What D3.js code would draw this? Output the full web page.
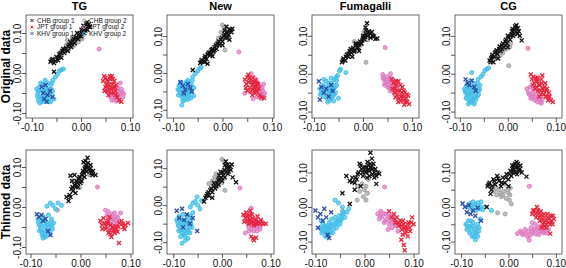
<!DOCTYPE html>
<html>
<head>
<meta charset="utf-8">
<script src="https://cdn.jsdelivr.net/npm/d3@7"></script>
<style>
  body { margin: 0; background: #fff; }
  svg { font-family: "Liberation Sans", Arial, sans-serif; }
</style>
</head>
<body>
<div id="chart"></div>
<script>
// Labels
const methods = ["TG", "New", "Fumagalli", "CG"];
const rowLabels = ["Original data", "Thinned data"];
const groups = ["CHB group 1", "JPT group 1", "KHV group 1", "CHB group 2", "JPT group 2", "KHV group 2"];
const groupColors = ["#111111", "#e8233a", "#2b4ba5", "#a3a3a3", "#de7cc2", "#42bfe9"];
const tickValues = [-0.1, -0.05, 0, 0.05, 0.1];
const labelledTicks = [-0.1, 0, 0.1];

// Axis ranges (top row, then bottom row)
const xDomains = [[-0.112, 0.106], [-0.112, 0.104], [-0.104, 0.114], [-0.110, 0.113],
                  [-0.109, 0.105], [-0.113, 0.107], [-0.107, 0.111], [-0.113, 0.113]];
const yDomains = [[-0.1125, 0.145], [-0.122, 0.157], [-0.117, 0.155], [-0.117, 0.155],
                  [-0.1175, 0.1425], [-0.132, 0.149], [-0.136, 0.165], [-0.136, 0.165]];

// ---- TG, original
const tgOrigCHB1 = [[-0.062,0.028],[-0.058,0.035],[-0.055,0.025],[-0.05,0.04],[-0.047,0.032],[-0.044,0.047],[-0.04,0.038],[-0.038,0.055],[-0.034,0.05],[-0.03,0.062],[-0.027,0.055],[-0.024,0.07],[-0.02,0.065],[-0.017,0.08],[-0.013,0.075],[-0.01,0.09],[-0.006,0.085],[-0.003,0.098],[0.0,0.092],[0.004,0.105],[0.007,0.1],[0.01,0.112],[0.013,0.108],[0.016,0.122],[0.012,0.127],[0.005,0.118],[-0.008,0.1],[-0.022,0.078],[-0.036,0.06],[0.018,0.115],[-0.055,0.003],
  [-0.06,0.032],[-0.052,0.03],[-0.045,0.04],[-0.041,0.05],[-0.033,0.058],[-0.026,0.066],[-0.019,0.072],[-0.011,0.086],[-0.004,0.092],[0.002,0.1],[0.009,0.106],[0.014,0.116],[-0.015,0.085],[0.001,0.108],[0.011,0.122]];
const tgOrigJPT1 = [[0.045,-0.02],[0.05,-0.012],[0.052,-0.03],[0.055,-0.022],[0.058,-0.04],[0.06,-0.015],[0.062,-0.05],[0.064,-0.028],[0.066,-0.038],[0.068,-0.02],[0.07,-0.045],[0.072,-0.03],[0.056,-0.055],[0.074,-0.06],[0.078,-0.068],[0.082,-0.072],[0.048,-0.045],[0.063,-0.008],
  [0.047,-0.008],[0.053,-0.018],[0.057,-0.03],[0.059,-0.008],[0.061,-0.038],[0.065,-0.015],[0.067,-0.048],[0.069,-0.035],[0.071,-0.055],[0.05,-0.035],[0.054,-0.045]];
const tgOrigKHV1 = [[-0.08,-0.035],[-0.077,-0.05],[-0.075,-0.065],[-0.072,-0.03],[-0.068,-0.055],[-0.063,-0.045],[-0.07,-0.072],[-0.058,-0.06]];
const tgOrigCHB2 = [[-0.042,0.05],[-0.035,0.06],[-0.03,0.07],[-0.025,0.058],[-0.02,0.075],[-0.015,0.068],[-0.01,0.08],[-0.005,0.078],[0.0,0.088],[0.004,0.095],[-0.028,0.082],[0.006,0.115],[-0.018,0.09],
  [-0.038,0.055],[-0.022,0.065],[-0.012,0.072],[0.002,0.085]];
const tgOrigJPT2 = [[0.05,-0.04],[0.055,-0.048],[0.06,-0.06],[0.065,-0.052],[0.068,-0.065],[0.07,-0.035],[0.075,-0.045],[0.078,-0.055],[0.082,-0.04],[0.085,-0.06],[0.072,-0.07],[0.08,-0.025],[0.037,0.06],
  [0.058,-0.052],[0.063,-0.068],[0.067,-0.058],[0.073,-0.058],[0.076,-0.038],[0.08,-0.05],[0.084,-0.048],[0.077,-0.068],[0.087,-0.052]];
const tgOrigKHV2 = [[-0.09,-0.04],[-0.088,-0.05],[-0.085,-0.035],[-0.083,-0.06],[-0.08,-0.045],[-0.078,-0.028],[-0.076,-0.055],[-0.074,-0.07],[-0.072,-0.038],[-0.07,-0.05],[-0.068,-0.025],[-0.066,-0.062],[-0.064,-0.042],[-0.062,-0.03],[-0.06,-0.055],[-0.058,-0.045],[-0.057,-0.018],[-0.052,-0.01],[-0.048,-0.003],[-0.044,0.005],[-0.04,0.008],[-0.036,0.01],[-0.087,-0.068],[-0.08,-0.072],[-0.055,-0.065],[-0.062,-0.072],
  [-0.089,-0.058],[-0.086,-0.045],[-0.082,-0.025],[-0.079,-0.062],[-0.075,-0.045],[-0.071,-0.062],[-0.069,-0.04],[-0.065,-0.052],[-0.061,-0.04],[-0.059,-0.025],[-0.084,-0.075],[-0.067,-0.072],[-0.073,-0.018]];

// ---- New, original
const newOrigCHB1 = [[-0.045,0.027],[-0.042,0.035],[-0.038,0.03],[-0.035,0.045],[-0.032,0.038],[-0.028,0.055],[-0.025,0.048],[-0.022,0.062],[-0.018,0.058],[-0.015,0.07],[-0.012,0.065],[-0.01,0.08],[-0.006,0.075],[-0.003,0.09],[0.0,0.085],[0.003,0.1],[0.006,0.095],[0.009,0.108],[0.012,0.103],[0.015,0.115],[0.018,0.11],[0.02,0.12],[0.008,0.125],[0.004,0.115],[-0.02,0.045],[-0.03,0.025],[-0.06,0.008],[0.014,0.09],
  [-0.043,0.03],[-0.036,0.04],[-0.03,0.05],[-0.024,0.055],[-0.02,0.065],[-0.013,0.075],[-0.008,0.085],[-0.001,0.095],[0.005,0.105],[0.011,0.112],[0.016,0.118],[-0.016,0.062],[0.0,0.075],[0.01,0.095],[-0.035,0.03]];
const newOrigJPT1 = [[0.045,-0.018],[0.048,-0.03],[0.05,-0.012],[0.053,-0.025],[0.055,-0.04],[0.058,-0.018],[0.06,-0.032],[0.062,-0.045],[0.064,-0.025],[0.066,-0.055],[0.068,-0.038],[0.07,-0.05],[0.072,-0.03],[0.075,-0.06],[0.084,-0.068],[0.052,-0.005],[0.06,-0.06],
  [0.047,-0.04],[0.05,-0.048],[0.054,-0.015],[0.057,-0.05],[0.059,-0.025],[0.061,-0.012],[0.063,-0.038],[0.065,-0.048],[0.067,-0.02],[0.069,-0.03],[0.073,-0.042],[0.078,-0.065]];
const newOrigKHV1 = [[-0.085,-0.025],[-0.08,-0.035],[-0.075,-0.045],[-0.07,-0.03],[-0.065,-0.04],[-0.062,-0.05],[-0.078,-0.055]];
const newOrigCHB2 = [[-0.025,0.06],[-0.018,0.07],[-0.012,0.078],[-0.005,0.085],[0.0,0.1],[0.005,0.062],[0.0,0.13],[0.004,0.125],[-0.008,0.095],[0.01,0.11],[-0.03,0.05],
  [-0.02,0.055],[-0.003,0.11],[0.012,0.1]];
const newOrigJPT2 = [[0.045,-0.055],[0.058,-0.002],[0.065,-0.015],[0.068,-0.028],[0.072,-0.045],[0.076,-0.035],[0.078,-0.05],[0.08,-0.04],[0.082,-0.06],[0.085,-0.055],[0.07,-0.065],[0.033,0.057],[0.062,-0.07],
  [0.066,-0.035],[0.07,-0.025],[0.074,-0.055],[0.077,-0.065],[0.081,-0.048],[0.083,-0.03],[0.075,-0.04],[0.079,-0.07]];
const newOrigKHV2 = [[-0.09,-0.045],[-0.088,-0.035],[-0.086,-0.055],[-0.084,-0.025],[-0.082,-0.065],[-0.08,-0.04],[-0.078,-0.05],[-0.076,-0.03],[-0.074,-0.06],[-0.072,-0.045],[-0.07,-0.02],[-0.068,-0.055],[-0.066,-0.035],[-0.064,-0.068],[-0.062,-0.05],[-0.06,-0.01],[-0.058,-0.04],[-0.055,-0.002],[-0.05,0.005],[-0.046,0.012],[-0.043,0.016],[-0.082,-0.087],[-0.078,-0.075],[-0.07,-0.072],[-0.058,-0.062],
  [-0.089,-0.06],[-0.087,-0.045],[-0.085,-0.032],[-0.083,-0.05],[-0.08,-0.06],[-0.077,-0.04],[-0.075,-0.055],[-0.073,-0.025],[-0.07,-0.04],[-0.067,-0.062],[-0.065,-0.05],[-0.063,-0.03],[-0.061,-0.02],[-0.08,-0.075],[-0.074,-0.068]];

// ---- Fumagalli, original
const fumOrigCHB1 = [[-0.043,0.03],[-0.04,0.04],[-0.036,0.035],[-0.033,0.05],[-0.03,0.045],[-0.027,0.06],[-0.024,0.055],[-0.02,0.068],[-0.017,0.062],[-0.014,0.075],[-0.01,0.07],[-0.006,0.085],[-0.003,0.08],[0.0,0.095],[0.003,0.09],[0.006,0.105],[0.009,0.1],[0.012,0.112],[0.008,0.133],[0.005,0.122],[0.015,0.095],[0.02,0.1],[0.025,0.092],[0.029,0.093],[0.018,0.11],[-0.022,0.045],[-0.008,0.06],
  [-0.041,0.035],[-0.035,0.045],[-0.029,0.052],[-0.025,0.065],[-0.018,0.058],[-0.012,0.068],[-0.008,0.078],[-0.002,0.088],[0.004,0.098],[0.01,0.108],[0.015,0.105],[0.022,0.098],[0.006,0.115],[-0.015,0.08],[0.0,0.1]];
const fumOrigJPT1 = [[0.058,-0.015],[0.062,-0.025],[0.065,-0.04],[0.068,-0.03],[0.07,-0.055],[0.072,-0.02],[0.075,-0.045],[0.078,-0.06],[0.08,-0.035],[0.082,-0.07],[0.085,-0.05],[0.088,-0.065],[0.09,-0.075],[0.094,-0.08],[0.092,-0.058],[0.076,-0.072],[0.084,-0.082],[0.066,-0.062],
  [0.06,-0.04],[0.064,-0.05],[0.067,-0.02],[0.07,-0.045],[0.073,-0.065],[0.076,-0.03],[0.079,-0.05],[0.081,-0.06],[0.083,-0.045],[0.086,-0.075],[0.089,-0.055],[0.072,-0.075]];
const fumOrigKHV1 = [[-0.09,-0.02],[-0.085,-0.035],[-0.08,-0.05],[-0.075,-0.04],[-0.07,-0.06],[-0.065,-0.03],[-0.088,-0.068],[-0.062,-0.045]];
const fumOrigCHB2 = [[-0.03,0.055],[-0.022,0.065],[-0.015,0.072],[-0.012,0.08],[-0.005,0.075],[0.0,0.088],[0.004,0.1],[0.006,0.03],[0.002,0.11],[-0.018,0.085],[0.01,0.09],
  [-0.025,0.06],[-0.008,0.082]];
const fumOrigJPT2 = [[0.04,-0.002],[0.042,-0.015],[0.045,-0.025],[0.048,-0.008],[0.05,-0.035],[0.052,-0.02],[0.055,-0.045],[0.058,-0.012],[0.06,-0.03],[0.063,-0.05],[0.066,-0.02],[0.07,-0.04],[0.045,0.069],[0.056,0.0],
  [0.041,-0.01],[0.044,-0.03],[0.047,-0.018],[0.05,-0.028],[0.053,-0.012],[0.054,-0.038],[0.057,-0.025],[0.061,-0.015],[0.064,-0.035],[0.068,-0.028]];
const fumOrigKHV2 = [[-0.088,-0.04],[-0.085,-0.05],[-0.082,-0.03],[-0.08,-0.06],[-0.078,-0.045],[-0.075,-0.02],[-0.073,-0.055],[-0.07,-0.035],[-0.068,-0.07],[-0.066,-0.048],[-0.064,-0.025],[-0.062,-0.06],[-0.06,-0.04],[-0.058,-0.015],[-0.056,-0.05],[-0.054,-0.03],[-0.052,-0.005],[-0.05,-0.065],[-0.048,0.008],[-0.046,0.012],[-0.035,0.003],[-0.072,-0.075],[-0.06,-0.072],[-0.054,-0.018],[-0.08,-0.015],
  [-0.087,-0.055],[-0.084,-0.04],[-0.081,-0.05],[-0.077,-0.035],[-0.074,-0.065],[-0.071,-0.045],[-0.069,-0.055],[-0.067,-0.038],[-0.065,-0.065],[-0.063,-0.045],[-0.061,-0.03],[-0.059,-0.055],[-0.057,-0.035],[-0.055,-0.01],[-0.07,-0.025],[-0.065,-0.012]];

// ---- CG, original
const cgOrigCHB1 = [[-0.038,0.035],[-0.035,0.04],[-0.032,0.05],[-0.028,0.045],[-0.025,0.058],[-0.022,0.052],[-0.018,0.065],[-0.015,0.06],[-0.012,0.075],[-0.008,0.07],[-0.005,0.085],[-0.002,0.08],[0.002,0.095],[0.005,0.09],[0.008,0.105],[0.011,0.1],[0.014,0.115],[0.017,0.11],[0.018,0.128],[0.021,0.12],[0.025,0.1],[0.029,0.088],[0.01,0.118],[-0.02,0.04],[-0.03,0.03],[0.0,0.07],
  [-0.036,0.03],[-0.033,0.045],[-0.027,0.055],[-0.023,0.062],[-0.017,0.072],[-0.01,0.08],[-0.004,0.09],[0.0,0.1],[0.006,0.1],[0.009,0.112],[0.013,0.105],[0.016,0.12],[0.02,0.105],[0.023,0.112],[0.015,0.125],[-0.012,0.065]];
const cgOrigJPT1 = [[0.048,-0.002],[0.05,-0.015],[0.053,-0.008],[0.055,-0.025],[0.058,-0.012],[0.06,-0.035],[0.062,-0.02],[0.065,-0.03],[0.068,-0.045],[0.07,-0.015],[0.072,-0.038],[0.075,-0.055],[0.078,-0.025],[0.08,-0.045],[0.083,-0.06],[0.086,-0.05],[0.09,-0.07],[0.094,-0.075],[0.066,-0.06],
  [0.052,-0.03],[0.057,-0.04],[0.059,-0.02],[0.063,-0.045],[0.067,-0.03],[0.069,-0.055],[0.071,-0.025],[0.074,-0.045],[0.077,-0.035],[0.079,-0.06],[0.082,-0.04],[0.084,-0.07],[0.087,-0.06],[0.072,-0.005],[0.062,-0.01]];
const cgOrigKHV1 = [[-0.088,-0.015],[-0.084,-0.025],[-0.08,-0.03],[-0.075,-0.018],[-0.07,-0.035],[-0.067,-0.045]];
const cgOrigCHB2 = [[-0.027,0.04],[-0.022,0.05],[-0.018,0.058],[-0.014,0.07],[-0.01,0.055],[-0.005,0.075],[0.0,0.083],[0.004,0.07],[0.002,0.021],[-0.008,0.065],[0.006,0.08],
  [-0.016,0.048],[-0.003,0.065]];
const cgOrigJPT2 = [[0.04,-0.04],[0.043,-0.05],[0.046,-0.035],[0.05,-0.06],[0.053,-0.045],[0.056,-0.07],[0.06,-0.055],[0.064,-0.065],[0.068,-0.075],[0.072,-0.068],[0.042,0.067],[0.048,-0.065],
  [0.045,-0.055],[0.052,-0.055],[0.058,-0.065],[0.062,-0.075],[0.066,-0.068],[0.07,-0.078],[0.054,-0.04]];
const cgOrigKHV2 = [[-0.09,-0.04],[-0.088,-0.05],[-0.086,-0.03],[-0.085,-0.06],[-0.083,-0.045],[-0.081,-0.07],[-0.08,-0.02],[-0.078,-0.055],[-0.076,-0.035],[-0.075,-0.075],[-0.073,-0.045],[-0.071,-0.065],[-0.07,-0.025],[-0.068,-0.05],[-0.066,-0.035],[-0.064,-0.06],[-0.062,-0.015],[-0.06,-0.045],[-0.058,-0.03],[-0.056,-0.008],[-0.052,-0.002],[-0.048,0.008],[-0.044,0.012],[-0.04,0.015],[-0.075,0.003],[-0.082,-0.08],[-0.07,-0.08],
  [-0.089,-0.045],[-0.087,-0.065],[-0.084,-0.035],[-0.082,-0.055],[-0.079,-0.04],[-0.077,-0.065],[-0.074,-0.05],[-0.072,-0.035],[-0.069,-0.06],[-0.067,-0.07],[-0.065,-0.045],[-0.063,-0.025],[-0.061,-0.055],[-0.059,-0.04],[-0.078,-0.075],[-0.073,-0.07]];

// ---- TG, thinned
const tgThinCHB1 = [[-0.024,0.015],[-0.022,0.03],[-0.02,0.078],[-0.018,0.045],[-0.015,0.04],[-0.012,0.055],[-0.01,0.035],[-0.008,0.065],[-0.005,0.05],[-0.003,0.07],[0.0,0.06],[0.003,0.08],[0.005,0.09],[0.008,0.075],[0.01,0.1],[0.012,0.088],[0.014,0.123],[0.015,0.11],[0.018,0.095],[0.02,0.105],[0.022,0.085],[0.025,0.09],[0.03,0.08],[-0.012,0.08],[-0.028,0.025],[0.006,0.112],
  [-0.02,0.025],[-0.016,0.05],[-0.01,0.05],[-0.006,0.06],[-0.002,0.075],[0.002,0.065],[0.006,0.085],[0.009,0.095],[0.012,0.105],[0.016,0.1],[0.02,0.09],[0.024,0.08],[0.01,0.115],[-0.017,0.065]];
const tgThinJPT1 = [[0.04,-0.035],[0.043,-0.045],[0.046,-0.028],[0.05,-0.055],[0.053,-0.04],[0.056,-0.065],[0.06,-0.045],[0.062,-0.075],[0.066,-0.058],[0.07,-0.048],[0.074,-0.062],[0.078,-0.04],[0.082,-0.035],[0.086,-0.05],[0.09,-0.045],[0.095,-0.04],[0.077,-0.09],[0.058,-0.025],
  [0.044,-0.055],[0.048,-0.04],[0.051,-0.048],[0.055,-0.035],[0.058,-0.058],[0.064,-0.05],[0.068,-0.065],[0.072,-0.055],[0.076,-0.05],[0.084,-0.042],[0.088,-0.055],[0.06,-0.068]];
const tgThinKHV1 = [[-0.087,-0.018],[-0.083,-0.025],[-0.078,-0.02],[-0.075,-0.035],[-0.07,-0.03],[-0.06,-0.07],[-0.065,-0.06]];
const tgThinCHB2 = [[-0.015,0.065],[-0.01,0.058],[-0.005,0.07],[0.0,0.075],[0.005,0.085],[0.008,0.1],[0.012,0.095],[0.016,0.09],[0.018,0.08],[0.02,0.1],[-0.046,-0.008],[-0.002,0.048],
  [0.01,0.09],[0.014,0.105],[0.003,0.07]];
const tgThinJPT2 = [[0.05,-0.008],[0.053,-0.02],[0.056,-0.012],[0.06,-0.03],[0.063,-0.018],[0.066,-0.04],[0.07,-0.025],[0.073,-0.045],[0.076,-0.035],[0.065,-0.055],[0.034,0.05],[0.08,-0.015],
  [0.055,-0.025],[0.058,-0.04],[0.061,-0.05],[0.064,-0.03],[0.068,-0.015],[0.072,-0.035],[0.066,-0.03],[0.074,-0.025]];
const tgThinKHV2 = [[-0.085,-0.03],[-0.083,-0.045],[-0.08,-0.055],[-0.078,-0.035],[-0.076,-0.065],[-0.074,-0.025],[-0.072,-0.048],[-0.07,-0.075],[-0.068,-0.038],[-0.066,-0.058],[-0.064,-0.02],[-0.062,-0.068],[-0.06,-0.045],[-0.058,-0.03],[-0.056,-0.055],[-0.054,-0.04],[-0.075,-0.078],[-0.067,0.002],[-0.06,0.01],[-0.055,0.004],[-0.045,0.01],[-0.038,0.004],[-0.05,-0.005],
  [-0.084,-0.038],[-0.082,-0.06],[-0.079,-0.045],[-0.077,-0.07],[-0.073,-0.058],[-0.071,-0.035],[-0.069,-0.065],[-0.067,-0.045],[-0.063,-0.05],[-0.061,-0.06],[-0.059,-0.038],[-0.057,-0.048],[-0.072,-0.072]];

// ---- New, thinned
const newThinCHB1 = [[-0.037,0.01],[-0.034,0.02],[-0.03,0.03],[-0.027,0.025],[-0.024,0.04],[-0.02,0.035],[-0.017,0.05],[-0.014,0.045],[-0.01,0.06],[-0.007,0.055],[-0.004,0.07],[0.0,0.065],[0.003,0.08],[0.006,0.075],[0.009,0.09],[0.012,0.085],[0.015,0.1],[0.018,0.095],[0.012,0.11],[0.008,0.118],[0.022,0.075],[0.029,0.062],[-0.02,0.02],[0.02,0.11],[-0.003,0.09],
  [-0.032,0.025],[-0.028,0.035],[-0.022,0.045],[-0.016,0.06],[-0.012,0.052],[-0.008,0.068],[-0.002,0.075],[0.002,0.088],[0.005,0.095],[0.01,0.1],[0.014,0.09],[0.016,0.105],[0.006,0.108],[-0.006,0.08]];
const newThinJPT1 = [[0.044,-0.026],[0.048,-0.035],[0.05,-0.02],[0.053,-0.04],[0.056,-0.028],[0.06,-0.048],[0.063,-0.035],[0.066,-0.055],[0.07,-0.04],[0.073,-0.03],[0.076,-0.045],[0.08,-0.04],[0.085,-0.05],[0.09,-0.05],[0.06,-0.085],[0.066,-0.095],[0.07,-0.088],[0.058,-0.015],
  [0.046,-0.045],[0.052,-0.03],[0.055,-0.05],[0.058,-0.04],[0.062,-0.025],[0.065,-0.045],[0.068,-0.05],[0.072,-0.05],[0.078,-0.05],[0.064,-0.09]];
const newThinKHV1 = [[-0.093,-0.015],[-0.088,-0.035],[-0.082,-0.01],[-0.078,-0.04],[-0.072,-0.025],[-0.066,-0.05],[-0.06,-0.035],[-0.051,-0.07],[-0.08,-0.06]];
const newThinCHB2 = [[-0.027,0.058],[-0.02,0.065],[-0.015,0.075],[-0.01,0.05],[-0.005,0.068],[0.0,0.06],[0.004,0.072],[0.006,0.04],[0.0,0.124],[0.004,0.118],[0.01,0.1],[-0.012,0.085],
  [-0.018,0.055],[-0.008,0.062],[0.008,0.112]];
const newThinJPT2 = [[0.05,-0.03],[0.052,-0.045],[0.055,-0.06],[0.058,-0.038],[0.06,-0.008],[0.062,-0.05],[0.065,-0.07],[0.068,-0.04],[0.07,-0.06],[0.074,-0.05],[0.078,-0.065],[0.082,-0.045],[0.048,-0.075],[0.037,0.046],
  [0.054,-0.05],[0.056,-0.07],[0.06,-0.065],[0.064,-0.055],[0.066,-0.045],[0.072,-0.07],[0.076,-0.058],[0.08,-0.055],[0.058,-0.022]];
const newThinKHV2 = [[-0.093,-0.04],[-0.09,-0.055],[-0.088,-0.03],[-0.086,-0.065],[-0.084,-0.045],[-0.082,-0.075],[-0.08,-0.025],[-0.078,-0.055],[-0.076,-0.085],[-0.074,-0.04],[-0.072,-0.065],[-0.07,-0.03],[-0.068,-0.05],[-0.066,-0.075],[-0.064,-0.04],[-0.062,-0.06],[-0.06,-0.02],[-0.065,-0.005],[-0.06,0.005],[-0.055,0.01],[-0.05,0.0],[-0.045,-0.01],[-0.051,0.022],[-0.082,-0.103],[-0.07,-0.09],[-0.042,0.012],
  [-0.091,-0.048],[-0.089,-0.07],[-0.087,-0.04],[-0.085,-0.055],[-0.083,-0.065],[-0.081,-0.04],[-0.079,-0.08],[-0.077,-0.07],[-0.075,-0.05],[-0.073,-0.075],[-0.071,-0.045],[-0.069,-0.07],[-0.067,-0.06],[-0.065,-0.03],[-0.063,-0.05],[-0.085,-0.085],[-0.075,-0.095]];

// ---- Fumagalli, thinned
const fumThinCHB1 = [[-0.045,0.04],[-0.03,0.009],[-0.037,0.09],[-0.03,0.075],[-0.025,0.085],[-0.02,0.07],[-0.016,0.08],[-0.012,0.1],[-0.01,0.125],[-0.006,0.11],[-0.003,0.09],[0.0,0.115],[0.003,0.1],[0.006,0.13],[0.008,0.12],[0.01,0.105],[0.012,0.157],[0.014,0.115],[0.016,0.095],[0.018,0.125],[0.02,0.085],[0.022,0.11],[0.024,0.067],[0.027,0.1],[0.03,0.096],[-0.02,0.05],[0.015,0.14],[0.005,0.085],[-0.008,0.06],
  [-0.025,0.072],[-0.018,0.085],[-0.008,0.12],[-0.004,0.1],[0.002,0.105],[0.004,0.115],[0.008,0.11],[0.012,0.125],[0.016,0.11],[0.02,0.1],[0.024,0.09],[0.01,0.09],[-0.014,0.095]];
const fumThinJPT1 = [[0.05,-0.012],[0.055,-0.03],[0.06,-0.02],[0.063,-0.045],[0.066,-0.03],[0.07,-0.055],[0.073,-0.04],[0.076,-0.065],[0.08,-0.05],[0.083,-0.075],[0.086,-0.06],[0.09,-0.045],[0.093,-0.07],[0.097,-0.03],[0.1,-0.05],[0.08,-0.11],[0.082,-0.125],[0.075,-0.095],[0.088,-0.085],
  [0.062,-0.035],[0.068,-0.045],[0.072,-0.05],[0.075,-0.055],[0.078,-0.04],[0.082,-0.06],[0.085,-0.07],[0.088,-0.05],[0.092,-0.06],[0.095,-0.045],[0.078,-0.08]];
const fumThinKHV1 = [[-0.1,-0.01],[-0.095,-0.03],[-0.09,-0.02],[-0.085,-0.04],[-0.082,-0.005],[-0.078,-0.03],[-0.075,-0.08],[-0.072,-0.09],[-0.095,-0.06],[-0.068,-0.015]];
const fumThinCHB2 = [[-0.014,0.06],[-0.01,0.045],[-0.005,0.067],[0.0,0.05],[0.003,0.06],[0.006,0.04],[-0.015,0.02],[0.003,0.02],[-0.045,-0.012],[0.008,0.08],[-0.002,0.03],[0.006,0.1]];
const fumThinJPT2 = [[0.027,-0.02],[0.03,-0.035],[0.033,-0.012],[0.036,-0.028],[0.04,-0.045],[0.043,-0.02],[0.046,-0.035],[0.05,-0.05],[0.053,-0.025],[0.056,-0.06],[0.06,-0.04],[0.064,-0.055],[0.068,-0.07],[0.041,0.058],[0.048,-0.065],
  [0.032,-0.025],[0.038,-0.018],[0.042,-0.04],[0.048,-0.025],[0.052,-0.04],[0.055,-0.045],[0.058,-0.03],[0.062,-0.05]];
const fumThinKHV2 = [[-0.09,-0.06],[-0.087,-0.075],[-0.085,-0.05],[-0.082,-0.065],[-0.08,-0.085],[-0.078,-0.055],[-0.075,-0.07],[-0.072,-0.045],[-0.07,-0.06],[-0.067,-0.035],[-0.065,-0.075],[-0.062,-0.05],[-0.06,-0.03],[-0.057,-0.06],[-0.055,-0.04],[-0.052,-0.025],[-0.05,-0.05],[-0.047,-0.035],[-0.044,-0.02],[-0.04,-0.03],[-0.036,-0.015],[-0.032,-0.005],[-0.06,0.02],[-0.053,0.012],[-0.045,0.0],[-0.088,-0.04],[-0.075,-0.085],
  [-0.088,-0.065],[-0.084,-0.07],[-0.081,-0.055],[-0.078,-0.075],[-0.076,-0.06],[-0.073,-0.065],[-0.069,-0.05],[-0.066,-0.055],[-0.063,-0.065],[-0.059,-0.045],[-0.056,-0.05],[-0.053,-0.04],[-0.049,-0.04],[-0.046,-0.025],[-0.042,-0.015],[-0.07,-0.075]];

// ---- CG, thinned
const cgThinCHB1 = [[-0.046,0.0],[-0.044,0.06],[-0.04,0.07],[-0.036,0.05],[-0.032,0.08],[-0.028,0.065],[-0.024,0.09],[-0.02,0.075],[-0.016,0.06],[-0.012,0.085],[-0.008,0.07],[-0.004,0.095],[0.0,0.08],[0.004,0.105],[0.006,0.09],[0.008,0.12],[0.01,0.1],[0.012,0.11],[0.014,0.125],[0.017,0.13],[0.018,0.095],[0.02,0.115],[0.022,0.105],[0.025,0.12],[0.028,0.1],[0.038,0.088],[-0.038,0.038],[0.0,0.06],
  [-0.042,0.065],[-0.03,0.075],[-0.022,0.082],[-0.014,0.07],[-0.006,0.085],[0.002,0.095],[0.008,0.11],[0.012,0.12],[0.016,0.115],[0.02,0.125],[0.024,0.11],[0.015,0.1],[-0.035,0.06]];
const cgThinJPT1 = [[0.05,-0.02],[0.055,-0.01],[0.058,-0.03],[0.06,0.0],[0.063,-0.02],[0.066,-0.04],[0.068,-0.012],[0.07,-0.03],[0.073,-0.05],[0.075,-0.02],[0.078,-0.04],[0.08,-0.06],[0.083,-0.03],[0.086,-0.045],[0.09,-0.025],[0.093,-0.05],[0.096,-0.035],[0.088,-0.077],[0.07,-0.06],
  [0.052,-0.01],[0.057,-0.02],[0.062,-0.01],[0.065,-0.03],[0.069,-0.022],[0.072,-0.04],[0.076,-0.03],[0.079,-0.05],[0.082,-0.02],[0.085,-0.035],[0.088,-0.05],[0.091,-0.04],[0.094,-0.025],[0.076,-0.055]];
const cgThinKHV1 = [[-0.097,0.01],[-0.092,0.0],[-0.088,-0.015],[-0.084,0.005],[-0.08,-0.02],[-0.075,-0.01],[-0.07,-0.025],[-0.058,-0.04],[-0.065,-0.002]];
const cgThinCHB2 = [[-0.03,0.045],[-0.025,0.035],[-0.02,0.05],[-0.015,0.03],[-0.01,0.045],[-0.005,0.025],[0.0,0.04],[0.004,0.055],[0.006,0.009],[0.002,0.02],[-0.023,-0.017],[-0.007,-0.02],[-0.008,0.066],
  [-0.026,0.055],[-0.018,0.04],[-0.012,0.035],[-0.002,0.05],[0.003,0.035]];
const cgThinJPT2 = [[0.019,-0.077],[0.025,-0.07],[0.03,-0.08],[0.035,-0.065],[0.04,-0.085],[0.044,-0.096],[0.048,-0.06],[0.052,-0.075],[0.056,-0.05],[0.06,-0.065],[0.064,-0.08],[0.068,-0.055],[0.072,-0.07],[0.076,-0.06],[0.08,-0.075],[0.085,-0.065],[0.044,0.06],[0.05,-0.045],
  [0.028,-0.075],[0.036,-0.078],[0.042,-0.07],[0.046,-0.082],[0.05,-0.07],[0.054,-0.065],[0.058,-0.078],[0.062,-0.058],[0.066,-0.07],[0.07,-0.065],[0.074,-0.075],[0.078,-0.068]];
const cgThinKHV2 = [[-0.085,0.0],[-0.082,0.01],[-0.078,-0.005],[-0.075,0.015],[-0.072,0.0],[-0.068,-0.01],[-0.065,0.012],[-0.06,0.002],[-0.055,-0.008],[-0.05,0.0],[-0.036,-0.01],[-0.09,-0.05],[-0.088,-0.065],[-0.085,-0.04],[-0.082,-0.075],[-0.08,-0.055],[-0.077,-0.085],[-0.075,-0.045],[-0.072,-0.065],[-0.07,-0.095],[-0.068,-0.075],[-0.065,-0.05],[-0.062,-0.06],[-0.06,-0.035],[-0.065,-0.085],[-0.058,0.015],
  [-0.08,0.005],[-0.07,0.008],[-0.062,-0.005],[-0.087,-0.055],[-0.083,-0.06],[-0.078,-0.07],[-0.074,-0.055],[-0.07,-0.075],[-0.067,-0.06],[-0.063,-0.07],[-0.072,-0.085],[-0.08,-0.04]];

// panel order: row by row, groups in legend order
const panelData = [
  [tgOrigCHB1, tgOrigJPT1, tgOrigKHV1, tgOrigCHB2, tgOrigJPT2, tgOrigKHV2],
  [newOrigCHB1, newOrigJPT1, newOrigKHV1, newOrigCHB2, newOrigJPT2, newOrigKHV2],
  [fumOrigCHB1, fumOrigJPT1, fumOrigKHV1, fumOrigCHB2, fumOrigJPT2, fumOrigKHV2],
  [cgOrigCHB1, cgOrigJPT1, cgOrigKHV1, cgOrigCHB2, cgOrigJPT2, cgOrigKHV2],
  [tgThinCHB1, tgThinJPT1, tgThinKHV1, tgThinCHB2, tgThinJPT2, tgThinKHV2],
  [newThinCHB1, newThinJPT1, newThinKHV1, newThinCHB2, newThinJPT2, newThinKHV2],
  [fumThinCHB1, fumThinJPT1, fumThinKHV1, fumThinCHB2, fumThinJPT2, fumThinKHV2],
  [cgThinCHB1, cgThinJPT1, cgThinKHV1, cgThinCHB2, cgThinJPT2, cgThinKHV2]
];

// Layout
const W = 566, H = 268;
const colLeft = [26, 167, 312, 455];
const boxW = 107;
const rowTop = [15, 150];
const boxH = [103, 104];

const svg = d3.select("#chart").append("svg")
    .attr("width", W)
    .attr("height", H);

const crossPath = s => `M${-s},${-s}L${s},${s}M${-s},${s}L${s},${-s}`;

// Draw one point group: crosses for group 1, circles for group 2
function drawGroup(g, pts, gi, x, y) {
  const color = groupColors[gi];
  if (gi < 3) {
    g.append("g").selectAll("path")
      .data(pts)
      .join("path")
        .attr("transform", d => `translate(${x(d[0])},${y(d[1])})`)
        .attr("d", crossPath(2.0))
        .attr("stroke", color)
        .attr("stroke-width", 1.35)
        .attr("fill", "none");
  } else {
    g.append("g").selectAll("circle")
      .data(pts)
      .join("circle")
        .attr("cx", d => x(d[0]))
        .attr("cy", d => y(d[1]))
        .attr("r", 2.0)
        .attr("fill", color)
        .attr("fill-opacity", 0.7)
        .attr("stroke", color)
        .attr("stroke-width", 1.0);
  }
}

panelData.forEach((data, p) => {
  const col = p % 4, row = Math.floor(p / 4);
  const left = colLeft[col], top = rowTop[row], h = boxH[row];

  const x = d3.scaleLinear().domain(xDomains[p]).range([left, left + boxW]);
  const y = d3.scaleLinear().domain(yDomains[p]).range([top + h, top]);

  const g = svg.append("g");

  // points: circles first, crosses above
  [3, 4, 5, 0, 1, 2].forEach(gi => drawGroup(g, data[gi], gi, x, y));

  // box
  g.append("rect")
    .attr("x", left).attr("y", top)
    .attr("width", boxW).attr("height", h)
    .attr("fill", "none")
    .attr("stroke", "#555")
    .attr("stroke-width", 0.9);

  const fmt = d => labelledTicks.some(t => Math.abs(t - d) < 1e-9) ? d.toFixed(2) : "";

  // x axis
  const xa = g.append("g")
      .attr("transform", `translate(0,${top + h})`)
      .call(d3.axisBottom(x).tickValues(tickValues).tickFormat(fmt).tickSize(4).tickSizeOuter(0).tickPadding(2));
  // y axis
  const ya = g.append("g")
      .attr("transform", `translate(${left},0)`)
      .call(d3.axisLeft(y).tickValues(tickValues).tickFormat(fmt).tickSize(4).tickSizeOuter(0));

  [xa, ya].forEach(a => {
    a.select(".domain").remove();
    a.selectAll("line").attr("stroke", "#444").attr("stroke-width", 0.9);
    a.selectAll("text")
      .attr("fill", "#111")
      .style("font-size", "10px")
      .style("font-family", "'Liberation Sans', Arial, sans-serif");
  });
  ya.selectAll("text")
    .attr("transform", "rotate(-90)")
    .attr("x", 0)
    .attr("y", -5.5)
    .attr("dy", 0)
    .attr("text-anchor", "middle");

  // method titles on the top row
  if (row === 0) {
    g.append("text")
      .attr("x", left + boxW / 2)
      .attr("y", 10)
      .attr("text-anchor", "middle")
      .style("font-size", "11px")
      .style("font-weight", "bold")
      .text(methods[col]);
  }

  // legend in the first panel
  if (p === 0) {
    const leg = g.append("g");
    groups.forEach((name, gi) => {
      const lx = left + (gi < 3 ? 6 : 58);
      const ly = top + 5.5 + (gi % 3) * 6.5;
      if (gi < 3) {
        leg.append("path")
          .attr("transform", `translate(${lx},${ly})`)
          .attr("d", crossPath(1.4))
          .attr("stroke", groupColors[gi])
          .attr("stroke-width", 1)
          .attr("fill", "none");
      } else {
        leg.append("circle")
          .attr("cx", lx).attr("cy", ly).attr("r", 1.5)
          .attr("fill", "none")
          .attr("stroke", groupColors[gi])
          .attr("stroke-width", 1);
      }
      leg.append("text")
        .attr("x", lx + 5)
        .attr("y", ly + 2.2)
        .style("font-size", "6.5px")
        .attr("fill", "#111")
        .text(name);
    });
  }
});

// row labels
rowLabels.forEach((label, r) => {
  svg.append("text")
    .attr("transform", `translate(9.5,${rowTop[r] + boxH[r] / 2}) rotate(-90)`)
    .attr("text-anchor", "middle")
    .style("font-size", "12px")
    .style("font-weight", "bold")
    .text(label);
});
</script>
</body>
</html>
